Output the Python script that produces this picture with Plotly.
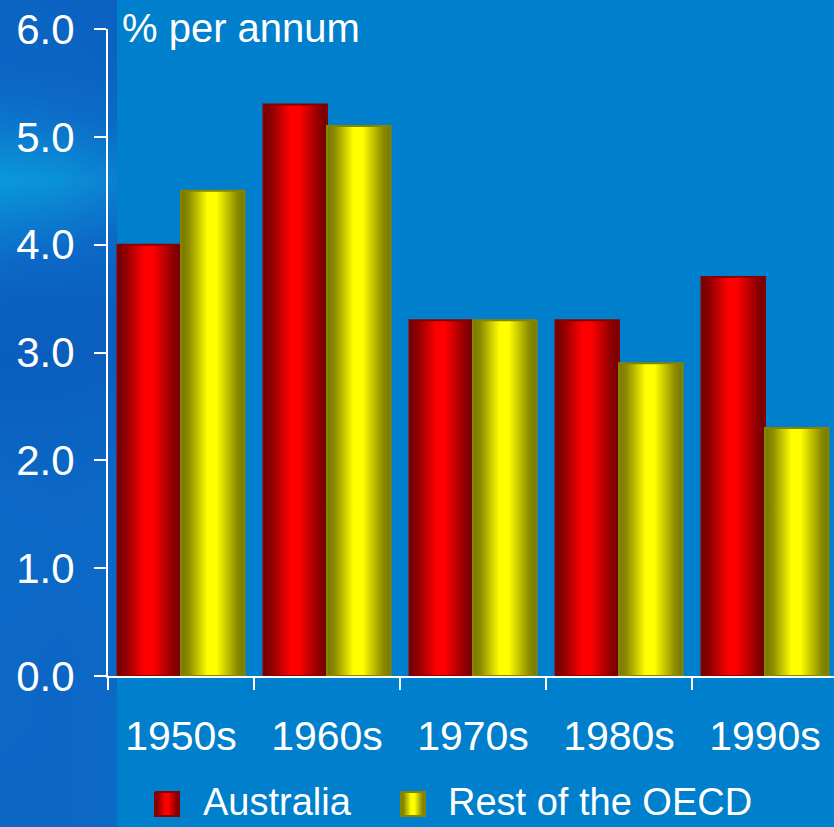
import plotly.graph_objects as go

# ---- data -------------------------------------------------------------
decades = ["1950s", "1960s", "1970s", "1980s", "1990s"]
australia = [4.0, 5.3, 3.3, 3.3, 3.7]
rest_of_oecd = [4.5, 5.1, 3.3, 2.9, 2.3]
y_tick_values = [0, 1, 2, 3, 4, 5, 6]
series_names = ["Australia", "Rest of the OECD"]
y_title = "% per annum"

# ---- styling -----------------------------------------------------------
W, H = 834, 827
BG = "#0080CC"
WHITE = "#FFFFFF"
FONT = "Liberation Sans, Arial, sans-serif"
BAR_W = 0.435

RED_SCALE = [[0.0, "#700000"], [0.12, "#8C0000"], [0.42, "#FF0000"],
             [0.56, "#FF0000"], [0.88, "#8C0000"], [1.0, "#700000"]]
YEL_SCALE = [[0.0, "#777700"], [0.12, "#8C8C00"], [0.42, "#FFFF00"],
             [0.56, "#FFFF00"], [0.88, "#8C8C00"], [1.0, "#777700"]]
RED_EDGE = "#880000"
YEL_EDGE = "#858500"

# left-hand decorative strip (soft vertical shading)
STRIP_SCALE = [[0.0, "#0850B2"], [0.5, "#0C68C6"], [1.0, "#0A9CDC"]]
strip_x = [0, 60, 120]
strip_y = [0, 60, 120, 180, 240, 300, 360, 420, 480, 540, 600, 660, 720, 780, 840]
strip_z = [
    [0.40, 0.38, 0.36],
    [0.42, 0.40, 0.38],
    [0.62, 0.58, 0.50],
    [0.96, 0.90, 0.72],
    [0.62, 0.56, 0.48],
    [0.34, 0.32, 0.34],
    [0.28, 0.28, 0.32],
    [0.38, 0.38, 0.40],
    [0.48, 0.46, 0.48],
    [0.52, 0.50, 0.50],
    [0.50, 0.48, 0.50],
    [0.48, 0.46, 0.50],
    [0.48, 0.46, 0.52],
    [0.46, 0.46, 0.52],
    [0.46, 0.46, 0.52],
]

PLOT_L, PLOT_R = 108, 834          # plot area, px
AXIS_BOTTOM, AXIS_TOP = 676, 29    # y=0 and y=6, px
CAT_PX = 146                       # width of one decade slot, px
LEGEND_Y = 804                     # legend row centre, px


def fx(px):
    return px / W


def fy(px):
    return 1 - px / H


fig = go.Figure()

# strip background
fig.add_trace(go.Heatmap(
    x=strip_x, y=strip_y, z=strip_z, colorscale=STRIP_SCALE, zmin=0, zmax=1,
    zsmooth="best", showscale=False, hoverinfo="skip", xaxis="x", yaxis="y",
))

# cylinder-shaded bars
for values, scale, edge, offset in [
    (australia, RED_SCALE, RED_EDGE, -BAR_W),
    (rest_of_oecd, YEL_SCALE, YEL_EDGE, 0.0),
]:
    for i, v in enumerate(values):
        x0, x1 = i + offset, i + offset + BAR_W
        fig.add_trace(go.Scatter(
            x=[x0, x1, x1, x0, x0], y=[0, 0, v, v, 0],
            mode="lines", fill="toself",
            fillgradient=dict(type="horizontal", colorscale=scale),
            line=dict(color=edge, width=2),
            xaxis="x2", yaxis="y2", showlegend=False, hoverinfo="skip",
        ))

# legend swatches (pixel-space overlay)
legend_items = [
    (series_names[0], RED_SCALE, RED_EDGE, 155, 201),
    (series_names[1], YEL_SCALE, YEL_EDGE, 401, 446),
]
for name, scale, edge, sx, tx in legend_items:
    y0, y1 = LEGEND_Y - 12, LEGEND_Y + 12
    fig.add_trace(go.Scatter(
        x=[sx, sx + 24, sx + 24, sx, sx], y=[y0, y0, y1, y1, y0],
        mode="lines", fill="toself",
        fillgradient=dict(type="horizontal", colorscale=scale),
        line=dict(color=edge, width=2),
        xaxis="x3", yaxis="y3", showlegend=False, hoverinfo="skip",
    ))
    fig.add_annotation(
        text=name, x=fx(tx), y=fy(LEGEND_Y - 2), xref="paper", yref="paper",
        xanchor="left", yanchor="middle", showarrow=False,
        font=dict(family=FONT, size=38, color=WHITE),
    )

fig.add_annotation(
    text=y_title, x=fx(120), y=fy(28), xref="paper", yref="paper",
    xanchor="left", yanchor="middle", showarrow=False,
    font=dict(family=FONT, size=40, color=WHITE),
)

hidden = dict(visible=False, showgrid=False, zeroline=False, fixedrange=True,
              automargin=False)
boundaries = [i - 0.5 for i in range(len(decades) + 1)]

fig.update_layout(
    width=W, height=H, autosize=False,
    margin=dict(l=0, r=0, t=0, b=0, pad=0, autoexpand=False),
    paper_bgcolor=BG, plot_bgcolor="rgba(0,0,0,0)",
    font=dict(family=FONT, color=WHITE),
    showlegend=False,
    xaxis=dict(domain=[0, fx(117)], range=[0, 117], **hidden),
    yaxis=dict(domain=[0, 1], range=[H, 0], **hidden),
    xaxis3=dict(domain=[0, 1], range=[0, W], anchor="y3", **hidden),
    yaxis3=dict(domain=[0, 1], range=[H, 0], anchor="x3", **hidden),
    xaxis2=dict(
        domain=[fx(PLOT_L), 1], anchor="y2", automargin=False,
        range=[-0.5, -0.5 + (PLOT_R - PLOT_L) / CAT_PX],
        tickmode="array", tickvals=list(range(len(decades))), ticktext=decades,
        ticks="", ticklabelstandoff=23,
        tickfont=dict(family=FONT, size=41, color=WHITE),
        minor=dict(tickmode="array", tickvals=boundaries, ticks="outside",
                   ticklen=12, tickwidth=2, tickcolor=WHITE, showgrid=False),
        showline=True, linecolor=WHITE, linewidth=2,
        showgrid=False, zeroline=False, fixedrange=True,
    ),
    yaxis2=dict(
        domain=[fy(AXIS_BOTTOM), fy(AXIS_TOP)], anchor="x2", automargin=False,
        range=[0, 6], tickmode="array", tickvals=y_tick_values, tickformat=".1f",
        ticks="outside", ticklen=12, tickwidth=2, tickcolor=WHITE,
        ticklabelstandoff=11,
        tickfont=dict(family=FONT, size=42, color=WHITE),
        showline=True, linecolor=WHITE, linewidth=2,
        showgrid=False, zeroline=False, fixedrange=True,
    ),
)

fig.write_html("out.html")
